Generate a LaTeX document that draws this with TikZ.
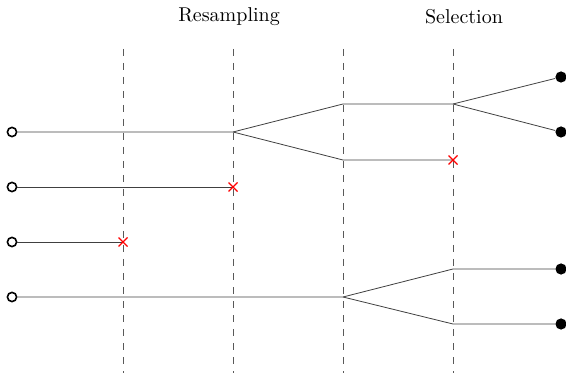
\documentclass[tikz,border=0pt]{standalone}
\begin{document}
\begin{tikzpicture}[x=0.5pt,y=-0.5pt,
  path/.style={draw=black!75,line width=0.4pt},
  guide/.style={draw=black!65,line width=0.45pt,dash pattern=on 3.5pt off 3.5pt},
  start/.style={circle,draw=black,line width=0.8pt,fill=white,inner sep=0pt,minimum size=4.6pt},
  finish/.style={circle,fill=black,inner sep=0pt,minimum size=5.6pt},
  kill/.style={red,line width=0.65pt}]
\useasboundingbox (0,0) rectangle (566,373);
% guides
\foreach \x/\n in {123/g1,233/g2,343/g3,453/g4}{
  \coordinate (\n t) at (\x,49);
  \coordinate (\n b) at (\x,373);
  \draw[guide] (\n t) -- (\n b);
}
\node (res) at (229,17) {Resampling};
\node (sel) at (464,17) {Selection};
% start nodes
\node[start] (s1) at (12,132) {};
\node[start] (s2) at (12,187) {};
\node[start] (s3) at (12,242) {};
\node[start] (s4) at (12,297) {};
% branch points
\coordinate (b1) at (233,132);
\coordinate (a1) at (343,104);
\coordinate (a2) at (343,160);
\coordinate (c1) at (453,104);
\coordinate (k1) at (453,160);
\coordinate (k2) at (233,187);
\coordinate (k3) at (123,242);
\coordinate (b4) at (343,297);
\coordinate (d1) at (453,269);
\coordinate (d2) at (453,324);
% finish nodes
\node[finish] (f1) at (561,77) {};
\node[finish] (f2) at (561,132) {};
\node[finish] (f3) at (561,269) {};
\node[finish] (f4) at (561,324) {};
% paths
\draw[path] (s1) -- (b1) -- (a1) -- (c1) -- (f1);
\draw[path] (c1) -- (f2);
\draw[path] (b1) -- (a2) -- (k1);
\draw[path] (s2) -- (k2);
\draw[path] (s3) -- (k3);
\draw[path] (s4) -- (b4) -- (d1) -- (f3);
\draw[path] (b4) -- (d2) -- (f4);
% kills
\foreach \k in {k1,k2,k3}{
  \draw[kill] (\k) ++(-4.5,-4.5) -- ++(9,9);
  \draw[kill] (\k) ++(-4.5,4.5) -- ++(9,-9);
}
\end{tikzpicture}
\end{document}
